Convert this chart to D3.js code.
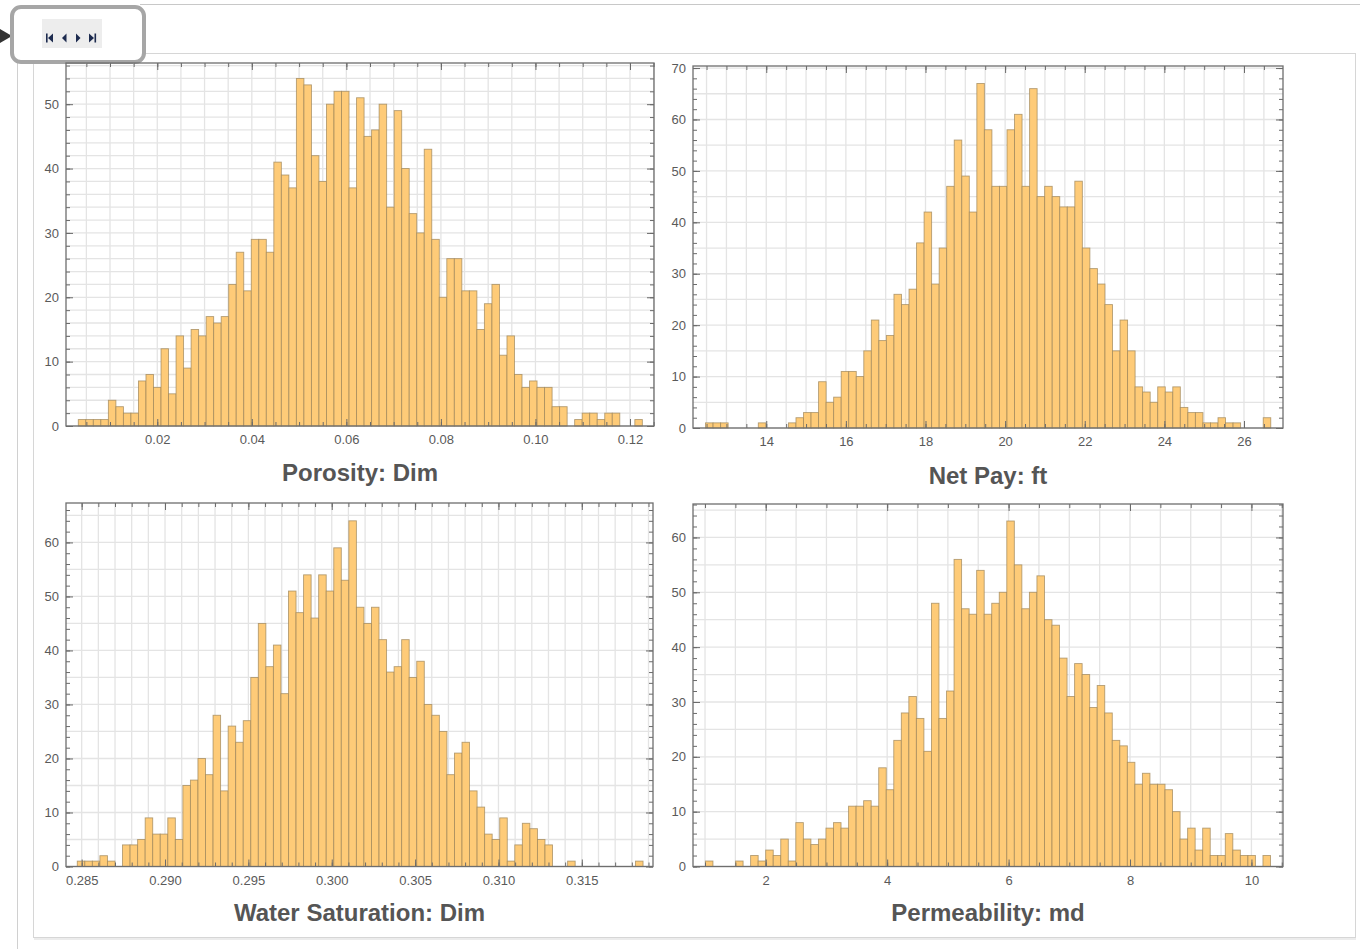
<!DOCTYPE html>
<html>
<head>
<meta charset="utf-8">
<script src="https://cdn.jsdelivr.net/npm/d3@7"></script>
<style>
  body { margin: 0; background: #fff; }
  svg { display: block; font-family: "Liberation Sans", Arial, sans-serif; }
</style>
</head>
<body>
<script>
const W = 1360, H = 949;

// bin counts, 75 bins each
const porosityCounts = [
  1, 1, 1, 1, 4, 3, 2, 2, 7, 8,
  6, 12, 5, 14, 9, 15, 14, 17, 16, 17,
  22, 27, 21, 29, 29, 27, 41, 39, 37, 54,
  53, 42, 38, 50, 52, 52, 37, 51, 45, 46,
  50, 34, 49, 40, 33, 30, 43, 29, 20, 26,
  26, 21, 21, 15, 19, 22, 11, 14, 8, 6,
  7, 6, 6, 3, 3, 0, 1, 2, 2, 1,
  2, 2, 0, 0, 1
];
const netPayCounts = [
  1, 1, 1, 0, 0, 0, 0, 1, 0, 0,
  0, 1, 2, 3, 3, 9, 5, 6, 11, 11,
  10, 15, 21, 17, 18, 26, 24, 27, 36, 42,
  28, 35, 47, 56, 49, 42, 67, 58, 47, 47,
  58, 61, 47, 66, 45, 47, 45, 43, 43, 48,
  35, 31, 28, 24, 15, 21, 15, 8, 7, 5,
  8, 7, 8, 4, 3, 3, 1, 1, 2, 1,
  1, 0, 0, 0, 2
];
const waterSatCounts = [
  1, 1, 1, 2, 1, 0, 4, 4, 5, 9,
  6, 6, 9, 5, 15, 16, 20, 17, 28, 14,
  26, 23, 27, 35, 45, 37, 41, 32, 51, 47,
  54, 46, 54, 51, 59, 53, 64, 48, 45, 48,
  42, 36, 37, 42, 35, 38, 30, 28, 25, 17,
  21, 23, 14, 11, 6, 5, 9, 1, 4, 8,
  7, 5, 4, 0, 0, 1, 0, 0, 0, 0,
  0, 0, 0, 0, 1
];
const permCounts = [
  1, 0, 0, 0, 1, 0, 2, 1, 3, 2,
  5, 1, 8, 5, 4, 5, 7, 8, 7, 11,
  11, 12, 11, 18, 14, 23, 28, 31, 27, 21,
  48, 27, 32, 56, 47, 46, 54, 46, 48, 50,
  63, 55, 47, 50, 53, 45, 44, 38, 31, 37,
  35, 29, 33, 28, 23, 22, 19, 15, 17, 15,
  15, 14, 10, 5, 7, 3, 7, 2, 2, 6,
  3, 2, 2, 0, 2
];

// first bin edge, bin width
const porosityBins = [0.00329, 0.001591];
const netPayBins = [12.475, 0.1893];
const waterSatBins = [0.284736, 0.0004525];
const permBins = [1.0066, 0.1241];

// tick labels
const porosityTicks = [0.02, 0.04, 0.06, 0.08, 0.10, 0.12];
const netPayTicks = [14, 16, 18, 20, 22, 24, 26];
const waterSatTicks = [0.285, 0.290, 0.295, 0.300, 0.305, 0.310, 0.315];
const permTicks = [2, 4, 6, 8, 10];
const countTicks50 = [0, 10, 20, 30, 40, 50];
const countTicks70 = [0, 10, 20, 30, 40, 50, 60, 70];
const countTicks60 = [0, 10, 20, 30, 40, 50, 60];

const titles = ["Porosity: Dim", "Net Pay: ft", "Water Saturation: Dim", "Permeability: md"];

const panels = [
  { counts: porosityCounts, bins: porosityBins, xTicks: porosityTicks, fmt: ".2f",
    xDomain: [0.00069, 0.12508], yDomain: [0, 56.4], yTicks: countTicks50,
    xStep: 0.005, yGrid: 2, box: [66, 654, 63, 426], title: titles[0], titleY: 481 },
  { counts: netPayCounts, bins: netPayBins, xTicks: netPayTicks, fmt: "d",
    xDomain: [12.16, 26.98], yDomain: [0, 70.4], yTicks: countTicks70,
    xStep: 0.5, yGrid: 5, box: [693, 1283, 66, 428], title: titles[1], titleY: 484 },
  { counts: waterSatCounts, bins: waterSatBins, xTicks: waterSatTicks, fmt: ".3f",
    xDomain: [0.28406, 0.31927], yDomain: [0, 67.3], yTicks: countTicks60,
    xStep: 0.001, yGrid: 5, box: [66, 653, 503, 866.5], title: titles[2], titleY: 921 },
  { counts: permCounts, bins: permBins, xTicks: permTicks, fmt: "d",
    xDomain: [0.802, 10.52], yDomain: [0, 66.1], yTicks: countTicks60,
    xStep: 0.5, yGrid: 5, box: [693, 1283, 504, 866.5], title: titles[3], titleY: 921 }
];

const svg = d3.select("body").append("svg")
  .attr("width", W)
  .attr("height", H);

// notebook cell frame
svg.append("line").attr("x1", 140).attr("x2", W).attr("y1", 4.5).attr("y2", 4.5)
  .attr("stroke", "#c8c8c8");
svg.append("line").attr("x1", 17.5).attr("x2", 17.5).attr("y1", 60).attr("y2", H)
  .attr("stroke", "#d0d0d0");
svg.append("rect").attr("x", 33.5).attr("y", 53.5).attr("width", 1322).attr("height", 884)
  .attr("fill", "#fff").attr("stroke", "#d6d6d6");
svg.append("line").attr("x1", 34).attr("x2", 1356).attr("y1", 939).attr("y2", 939)
  .attr("stroke", "#ececec").attr("stroke-width", 2);

// playback controls
svg.append("path").attr("d", "M0,29 L12,36 L0,43 Z").attr("fill", "#333");
svg.append("rect").attr("x", 12).attr("y", 7).attr("width", 132).attr("height", 55)
  .attr("rx", 9).attr("fill", "#fff").attr("stroke", "#a6a6a6").attr("stroke-width", 4);
svg.append("rect").attr("x", 42).attr("y", 19).attr("width", 60).attr("height", 29)
  .attr("fill", "#ededed");
const ctl = svg.append("g").attr("fill", "#1d2b4f");
ctl.append("rect").attr("x", 46).attr("y", 33.5).attr("width", 1.6).attr("height", 9);
ctl.append("path").attr("d", "M53,33.5 L48,38 L53,42.5 Z");
ctl.append("path").attr("d", "M66.5,33.5 L62,38 L66.5,42.5 Z");
ctl.append("path").attr("d", "M76,33.5 L80.5,38 L76,42.5 Z");
ctl.append("path").attr("d", "M89,33.5 L94,38 L89,42.5 Z");
ctl.append("rect").attr("x", 94.5).attr("y", 33.5).attr("width", 1.6).attr("height", 9);

function multiples(d0, d1, step) {
  const out = [];
  for (let k = Math.ceil(d0 / step - 1e-9); k * step <= d1 + 1e-9; k++) {
    out.push(+(k * step).toFixed(6));
  }
  return out;
}

function drawPanel(p) {
  const [l, r, t, b] = p.box;
  const x = d3.scaleLinear().domain(p.xDomain).range([l, r]);
  const y = d3.scaleLinear().domain(p.yDomain).range([b, t]);
  const g = svg.append("g");

  const xGrid = multiples(p.xDomain[0], p.xDomain[1], p.xStep);
  const yGrid = multiples(0, p.yDomain[1], p.yGrid);

  g.append("g").selectAll("line").data(xGrid).join("line")
    .attr("x1", d => x(d)).attr("x2", d => x(d))
    .attr("y1", t).attr("y2", b)
    .attr("stroke", "#e4e4e4").attr("stroke-width", 1.3);
  g.append("g").selectAll("line").data(yGrid).join("line")
    .attr("x1", l).attr("x2", r)
    .attr("y1", d => y(d)).attr("y2", d => y(d))
    .attr("stroke", "#e4e4e4").attr("stroke-width", 1.3);

  const [start, width] = p.bins;
  const bars = p.counts.map((c, i) => ({ x0: start + i * width, x1: start + (i + 1) * width, c }))
    .filter(d => d.c > 0);

  g.append("g").selectAll("rect").data(bars).join("rect")
    .attr("x", d => x(d.x0))
    .attr("width", d => x(d.x1) - x(d.x0))
    .attr("y", d => y(d.c))
    .attr("height", d => y(0) - y(d.c))
    .attr("fill", "#fecb78")
    .attr("stroke", "#9c8458")
    .attr("stroke-opacity", 0.75)
    .attr("stroke-width", 0.9);

  const yMinor = multiples(0, p.yDomain[1], 2);

  const axes = [
    [d3.axisBottom(x).tickValues(p.xTicks).tickSize(-7).tickPadding(9).tickFormat(d3.format(p.fmt)), `translate(0,${b})`],
    [d3.axisBottom(x).tickValues(xGrid).tickSize(-4).tickFormat(""), `translate(0,${b})`],
    [d3.axisTop(x).tickValues(p.xTicks).tickSize(-7).tickFormat(""), `translate(0,${t})`],
    [d3.axisTop(x).tickValues(xGrid).tickSize(-4).tickFormat(""), `translate(0,${t})`],
    [d3.axisLeft(y).tickValues(p.yTicks).tickSize(-7).tickPadding(7), `translate(${l},0)`],
    [d3.axisLeft(y).tickValues(yMinor).tickSize(-4).tickFormat(""), `translate(${l},0)`],
    [d3.axisRight(y).tickValues(p.yTicks).tickSize(-7).tickFormat(""), `translate(${r},0)`],
    [d3.axisRight(y).tickValues(yMinor).tickSize(-4).tickFormat(""), `translate(${r},0)`]
  ];
  axes.forEach(([ax, tr]) => {
    const a = g.append("g").attr("transform", tr).call(ax);
    a.select(".domain").remove();
    a.selectAll(".tick line").attr("stroke", "#6a6a6a").attr("stroke-width", 1);
    a.selectAll(".tick text").attr("fill", "#5a5a5a").style("font-size", "13px")
      .style("font-family", '"Liberation Sans", Arial, sans-serif');
  });

  g.append("rect").attr("x", l).attr("y", t).attr("width", r - l).attr("height", b - t)
    .attr("fill", "none").attr("stroke", "#6e6e6e").attr("stroke-width", 1.3);

  g.append("text")
    .attr("x", (l + r) / 2).attr("y", p.titleY)
    .attr("text-anchor", "middle")
    .attr("fill", "#555")
    .style("font-size", "24px").style("font-weight", "bold")
    .text(p.title);
}

panels.forEach(drawPanel);
</script>
</body>
</html>
